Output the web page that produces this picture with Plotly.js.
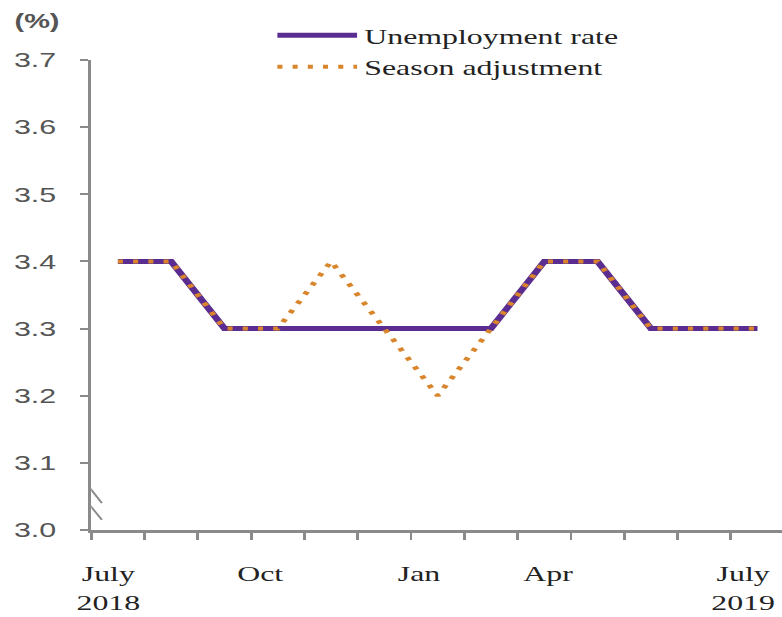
<!DOCTYPE html>
<html>
<head>
<meta charset="utf-8">
<script src="https://cdn.plot.ly/plotly-3.0.1.min.js"></script>
<style>
html,body{margin:0;padding:0;background:#fff;overflow:hidden;width:782px;height:617px}
#chart{width:540px;height:617px;transform:scaleX(1.4482);transform-origin:0 0}
</style>
</head>
<body>
<div id="chart"></div>
<script>
// Months from July 2018 to July 2019
var months = ["Jul 2018","Aug 2018","Sep 2018","Oct 2018","Nov 2018","Dec 2018","Jan 2019","Feb 2019","Mar 2019","Apr 2019","May 2019","Jun 2019","Jul 2019"];
var unemployment = [3.4, 3.4, 3.3, 3.3, 3.3, 3.3, 3.3, 3.3, 3.4, 3.4, 3.3, 3.3, 3.3];
var seasonAdjusted = [3.4, 3.4, 3.3, 3.3, 3.4, 3.3, 3.2, 3.3, 3.4, 3.4, 3.3, 3.3, 3.3];
var xTickLabels = ["July<br>2018", "Oct", "Jan", "Apr", "July<br>2019"];
var xTickPositions = [-0.18, 2.67, 5.65, 8.07, 11.73];
var yTickValues = [3.0, 3.1, 3.2, 3.3, 3.4, 3.5, 3.6, 3.7];

var xIdx = months.map(function(m, i){ return i; });
var serif = "Liberation Serif, Times New Roman, serif";
var sans = "Liberation Sans, Arial, sans-serif";

var traces = [
  {x: xIdx, y: unemployment, text: months, name: "Unemployment rate", type: "scatter", mode: "lines",
   line: {color: "#5b2d91", width: 5}, hovertemplate: "%{text}: %{y}%<extra></extra>"},
  {x: xIdx, y: seasonAdjusted, text: months, name: "Season adjustment", type: "scatter", mode: "lines",
   line: {color: "#d9852c", width: 4, dash: "3.5px,7px"}, hovertemplate: "%{text}: %{y}%<extra></extra>"}
];

var layout = {
  width: 540, height: 617,
  margin: {l: 63, r: 0, t: 60, b: 87},
  paper_bgcolor: "#fff", plot_bgcolor: "#fff",
  font: {family: serif, size: 22, color: "#222"},
  showlegend: true,
  legend: {x: 0.259, y: 1.097, xanchor: "left", yanchor: "top", bgcolor: "rgba(0,0,0,0)",
           font: {family: serif, size: 22, color: "#222"}, itemwidth: 55, tracegroupgap: 0},
  xaxis: {range: [-0.5, 12.46], showgrid: false, zeroline: false, showline: true,
          linecolor: "#8a8a8a", linewidth: 3, tickmode: "array", tickvals: xTickPositions,
          ticktext: xTickLabels, ticks: "outside", ticklen: 22, tickcolor: "rgba(0,0,0,0)",
          tickfont: {family: serif, size: 22, color: "#222"},
          minor: {tickmode: "linear", tick0: -0.5, dtick: 1, ticks: "outside", ticklen: 7,
                  tickwidth: 2, tickcolor: "#8a8a8a", showgrid: false},
          fixedrange: true},
  yaxis: {range: [3.0, 3.7], showgrid: false, zeroline: false, showline: true,
          linecolor: "#8a8a8a", linewidth: 2, tickmode: "array", tickvals: yTickValues,
          ticktext: yTickValues.map(function(v){ return v.toFixed(1); }),
          ticks: "outside", ticklen: 6, tickwidth: 2, tickcolor: "#8a8a8a",
          ticklabelstandoff: 12,
          tickfont: {family: sans, size: 21, color: "#555"}, fixedrange: true},
  annotations: [
    {text: "<b>(%)</b>", xref: "paper", yref: "paper", x: -0.116, y: 1.083, xanchor: "left",
     yanchor: "middle", showarrow: false, font: {family: sans, size: 20, color: "#555"}}
  ],
  shapes: [
    {type: "line", xref: "x", yref: "y", x0: -0.68, y0: 3.078, x1: -0.30, y1: 3.040,
     line: {color: "#8a8a8a", width: 1.5}},
    {type: "line", xref: "x", yref: "y", x0: -0.68, y0: 3.052, x1: -0.30, y1: 3.015,
     line: {color: "#8a8a8a", width: 1.5}}
  ]
};

Plotly.newPlot("chart", traces, layout, {displayModeBar: false});
</script>
</body>
</html>
